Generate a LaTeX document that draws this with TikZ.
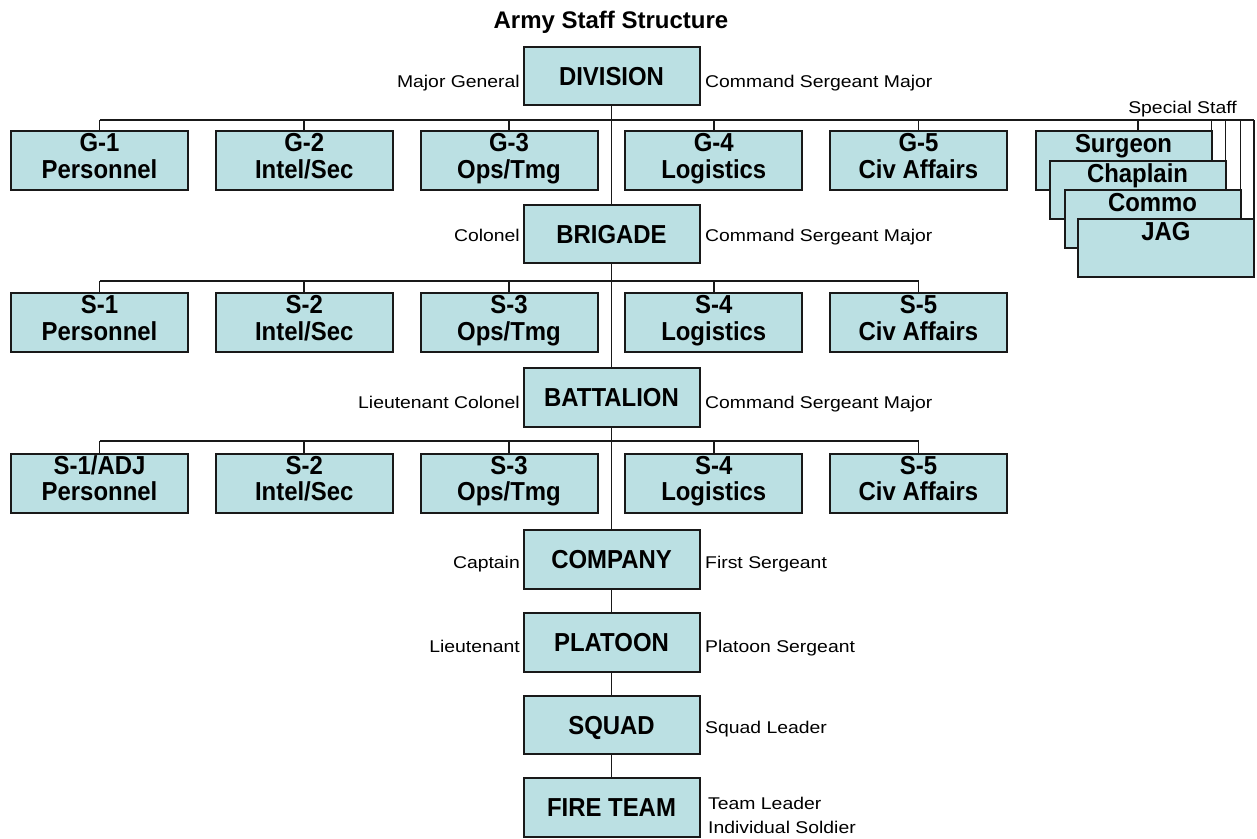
\documentclass[tikz,border=0pt]{standalone}
\usepackage{fontspec}
\newfontfamily\boxfont{Liberation Sans}[FakeStretch=0.92]
\newfontfamily\labfont{Liberation Sans}[FakeStretch=1.14]
\newfontfamily\titlefont{Liberation Sans}
\definecolor{boxfill}{RGB}{187,224,227}
\definecolor{edge}{RGB}{25,25,25}
\newcommand\mkstaff[5]{%
  \node[staffbox] (#1) at (#2,#3+29.5) {};
  \node[boxtxt] (#1a) at ([yshift=-20.8pt]#1.north) {#4};
  \node[boxtxt] (#1b) at ([yshift=-47.3pt]#1.north) {#5};
}
\newcommand\mkspecial[4]{%
  \node[specbox] (#1) at (#2,#3+29.25) {};
  \node[boxtxt] (#1a) at ([yshift=-21.5pt]#1.north) {#4};
}
\begin{document}
\begin{tikzpicture}[x=1pt,y=-1pt,
  mainbox/.style={draw=edge, fill=boxfill, line width=2pt, minimum width=176pt,
    minimum height=58.5pt, inner sep=0pt, outer sep=0pt, text depth=0pt,
    font=\boxfont\bfseries\fontsize{26}{26}\selectfont},
  staffbox/.style={mainbox, minimum width=177pt, minimum height=59pt},
  specbox/.style={mainbox, minimum width=176pt, minimum height=58.5pt},
  boxtxt/.style={font=\boxfont\bfseries\fontsize{26}{26}\selectfont, anchor=base, inner sep=0pt},
  lab/.style={font=\labfont\fontsize{17}{20}\selectfont, inner sep=0pt},
  titletxt/.style={font=\titlefont\bfseries\fontsize{24}{24}\selectfont, anchor=base, inner sep=0pt},
  conn/.style={line width=1.8pt, draw=edge}]
\useasboundingbox (0,0) rectangle (1257,838);

\node[titletxt] (title) at (611,28) {Army Staff Structure};

% main column
\node[mainbox] (div) at (611.5,76) {DIVISION};
\node[mainbox] (brig) at (611.5,234) {BRIGADE};
\node[mainbox] (batt) at (611.5,397.5) {BATTALION};
\node[mainbox] (comp) at (611.5,559.5) {COMPANY};
\node[mainbox] (plat) at (611.5,642.5) {PLATOON};
\node[mainbox] (squad) at (611.5,725) {SQUAD};
\node[mainbox] (fire) at (611.5,807.5) {FIRE TEAM};

% rank labels
\node[lab, anchor=base east] (divl) at (520,87) {Major General};
\node[lab, anchor=base west] (divr) at (705,87) {Command Sergeant Major};
\node[lab, anchor=base east] (brigl) at (520,241) {Colonel};
\node[lab, anchor=base west] (brigr) at (705,241) {Command Sergeant Major};
\node[lab, anchor=base east] (battl) at (520,408) {Lieutenant Colonel};
\node[lab, anchor=base west] (battr) at (705,408) {Command Sergeant Major};
\node[lab, anchor=base east] (compl) at (520,568) {Captain};
\node[lab, anchor=base west] (compr) at (705,568) {First Sergeant};
\node[lab, anchor=base east] (platl) at (520,652) {Lieutenant};
\node[lab, anchor=base west] (platr) at (705,652) {Platoon Sergeant};
\node[lab, anchor=base west] (squadr) at (705,733) {Squad Leader};
\node[lab, anchor=base west] (firer1) at (708,809) {Team Leader};
\node[lab, anchor=base west] (firer2) at (708,833) {Individual Soldier};

% division staff
\mkstaff{g1}{99.5}{131}{G-1}{Personnel}
\mkstaff{g2}{304.25}{131}{G-2}{Intel/Sec}
\mkstaff{g3}{509}{131}{G-3}{Ops/Tmg}
\mkstaff{g4}{713.75}{131}{G-4}{Logistics}
\mkstaff{g5}{918.5}{131}{G-5}{Civ Affairs}

% brigade staff
\mkstaff{sa1}{99.5}{293}{S-1}{Personnel}
\mkstaff{sa2}{304.25}{293}{S-2}{Intel/Sec}
\mkstaff{sa3}{509}{293}{S-3}{Ops/Tmg}
\mkstaff{sa4}{713.75}{293}{S-4}{Logistics}
\mkstaff{sa5}{918.5}{293}{S-5}{Civ Affairs}

% battalion staff
\mkstaff{sb1}{99.5}{453.5}{S-1/ADJ}{Personnel}
\mkstaff{sb2}{304.25}{453.5}{S-2}{Intel/Sec}
\mkstaff{sb3}{509}{453.5}{S-3}{Ops/Tmg}
\mkstaff{sb4}{713.75}{453.5}{S-4}{Logistics}
\mkstaff{sb5}{918.5}{453.5}{S-5}{Civ Affairs}

% special staff
\node[lab, anchor=base] (spec) at (1182.5,113) {Special Staff};
\mkspecial{surg}{1123.5}{131}{Surgeon}
\mkspecial{chap}{1137.5}{160.5}{Chaplain}
\mkspecial{commo}{1152.5}{189.5}{Commo}
\mkspecial{jag}{1166}{218.5}{JAG}

% buses
\coordinate (gbus) at (611.5,120);
\coordinate (sabus) at (611.5,281);
\coordinate (sbbus) at (611.5,441);
\coordinate (surgc) at ([xshift=14.5pt]surg.north);

\draw[conn] (g1.north |- gbus) -- (jag.north east |- gbus);
\draw[conn] (sa1.north |- sabus) -- (sa5.north |- sabus);
\draw[conn] (sb1.north |- sbbus) -- (sb5.north |- sbbus);

\foreach \n in {g1,g2,g3,g4,g5} \draw[conn] (\n.north) -- (\n.north |- gbus);
\foreach \n in {sa1,sa2,sa3,sa4,sa5} \draw[conn] (\n.north) -- (\n.north |- sabus);
\foreach \n in {sb1,sb2,sb3,sb4,sb5} \draw[conn] (\n.north) -- (\n.north |- sbbus);

\draw[conn] (surgc) -- (surgc |- gbus);
\foreach \n in {surg,chap,commo,jag} \draw[conn] (\n.north east) -- (\n.north east |- gbus);

% main column
\draw[conn] (div) -- (brig);
\draw[conn] (brig) -- (batt);
\draw[conn] (batt) -- (comp);
\draw[conn] (comp) -- (plat);
\draw[conn] (plat) -- (squad);
\draw[conn] (squad) -- (fire);
\end{tikzpicture}
\end{document}
